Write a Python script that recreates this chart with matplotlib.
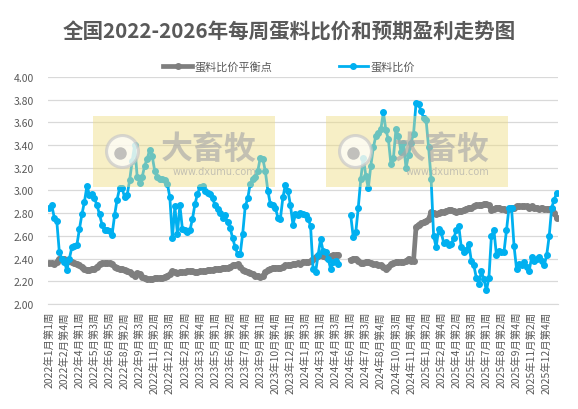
import numpy as np
import matplotlib
matplotlib.use("Agg")
import matplotlib.pyplot as plt
from matplotlib.patches import Rectangle

plt.rcParams['font.family'] = ['Noto Sans CJK SC', 'DejaVu Sans']


# ============================================
# DATA (weekly, 2022-01 W1 .. 2025-12)
# ============================================
title = "全国2022-2026年每周蛋料比价和预期盈利走势图"
series_names = ["蛋料比价平衡点", "蛋料比价"]

tick_labels = [
    "2022年1月第1周", "2022年2月第4周", "2022年4月第1周", "2022年5月第3周",
    "2022年6月第5周", "2022年8月第2周", "2022年9月第3周", "2022年11月第2周",
    "2022年12月第3周", "2023年2月第2周", "2023年3月第4周", "2023年5月第1周",
    "2023年6月第2周", "2023年7月第4周", "2023年9月第1周", "2023年10月第4周",
    "2023年12月第1周", "2024年1月第3周", "2024年3月第1周", "2024年4月第3周",
    "2024年6月第1周", "2024年7月第3周", "2024年8月第4周", "2024年10月第3周",
    "2024年11月第4周", "2025年1月第2周", "2025年2月第4周", "2025年4月第2周",
    "2025年5月第3周", "2025年7月第1周", "2025年8月第2周", "2025年9月第4周",
    "2025年11月第2周", "2025年12月第4周",
]
tick_step = 6

# 蛋料比价平衡点 (None = no data that week)
balance = [
    2.36, 2.36, 2.35, 2.37, 2.40, 2.40, 2.40, 2.38, 2.38, 2.37,
    2.36, 2.35, 2.34, 2.33, 2.31, 2.30, 2.30, 2.31, 2.31, 2.33,
    2.35, 2.36, 2.36, 2.36, 2.36, 2.35, 2.33, 2.32, 2.31, 2.31,
    2.30, 2.29, 2.28, 2.26, 2.25, 2.27, 2.26, 2.24, 2.23, 2.22,
    2.22, 2.22, 2.23, 2.23, 2.23, 2.23, 2.24, 2.25, 2.26, 2.29,
    2.28, 2.27, 2.28, 2.28, 2.28, 2.29, 2.29, 2.29, 2.28, 2.28,
    2.29, 2.29, 2.29, 2.30, 2.30, 2.30, 2.31, 2.31, 2.31, 2.32,
    2.32, 2.32, 2.33, 2.34, 2.34, 2.35, 2.33, 2.30, 2.29, 2.28,
    2.27, 2.26, 2.25, 2.25, 2.24, 2.25, 2.28, 2.30, 2.31, 2.32,
    2.32, 2.32, 2.32, 2.33, 2.34, 2.34, 2.34, 2.35, 2.35, 2.36,
    2.35, 2.37, 2.37, 2.37, 2.38, 2.40, 2.41, 2.42, 2.43, 2.42,
    2.41, 2.41, 2.42, 2.43, 2.43, 2.43, None, None, None, None,
    2.39, 2.40, 2.40, 2.38, 2.36, 2.36, 2.37, 2.37, 2.36, 2.35,
    2.35, 2.34, 2.34, 2.33, 2.31, 2.33, 2.35, 2.36, 2.37, 2.37,
    2.37, 2.37, 2.38, 2.40, 2.38, 2.38, 2.68, 2.70, 2.71, 2.72,
    2.73, 2.75, 2.81, 2.80, 2.79, 2.80, 2.81, 2.81, 2.82, 2.83,
    2.83, 2.82, 2.81, 2.82, 2.82, 2.83, 2.84, 2.85, 2.85, 2.86,
    2.87, 2.87, 2.87, 2.88, 2.88, 2.87, 2.83, 2.84, 2.85, 2.85,
    2.84, 2.84, 2.83, 2.84, 2.85, 2.85, 2.86, 2.86, 2.86, 2.86,
    2.86, 2.85, 2.86, 2.85, 2.85, 2.84, 2.85, 2.84, 2.84, 2.84,
    2.84, 2.80, 2.76,
]

# 蛋料比价
ratio = [
    2.85, 2.87, 2.76, 2.73, 2.46, 2.40, 2.37, 2.30, 2.40, 2.50,
    2.51, 2.52, 2.66, 2.79, 2.90, 3.04, 2.96, 2.97, 2.93, 2.87,
    2.79, 2.70, 2.65, 2.65, 2.64, 2.61, 2.78, 2.92, 3.02, 3.02,
    2.94, 2.96, 3.09, 3.26, 3.40, 3.12, 3.07, 3.12, 3.22, 3.28,
    3.36, 3.30, 3.17, 3.12, 3.10, 3.10, 3.09, 3.06, 2.94, 2.58,
    2.86, 2.62, 2.87, 2.66, 2.65, 2.63, 2.65, 2.75, 2.88, 2.97,
    3.03, 3.04, 3.00, 2.98, 2.97, 2.93, 2.87, 2.84, 2.80, 2.76,
    2.78, 2.72, 2.67, 2.58, 2.50, 2.44, 2.44, 2.62, 2.86, 2.93,
    3.06, 3.10, 3.12, 3.17, 3.29, 3.28, 3.17, 3.00, 2.88, 2.87,
    2.85, 2.76, 2.75, 2.94, 3.05, 3.00, 2.87, 2.70, 2.79, 2.78,
    2.80, 2.79, 2.78, 2.75, 2.69, 2.31, 2.28, 2.43, 2.57, 2.47,
    2.46, 2.40, 2.31, 2.37, 2.38, 2.35, None, None, None, None,
    2.78, 2.59, 2.63, 2.85, 3.10, 3.29, 3.13, 3.02, 3.22, 3.38,
    3.48, 3.51, 3.54, 3.69, 3.53, 3.45, 3.23, 3.29, 3.54, 3.48,
    3.34, 3.42, 3.20, 3.31, 3.42, 3.50, 3.77, 3.76, 3.70, 3.64,
    3.62, 3.38, 3.10, 2.60, 2.50, 2.66, 2.63, 2.54, 2.55, 2.52,
    2.53, 2.58, 2.65, 2.69, 2.50, 2.46, 2.48, 2.53, 2.38, 2.34,
    2.23, 2.18, 2.29, 2.22, 2.12, 2.23, 2.60, 2.65, 2.43, 2.47,
    2.46, 2.46, 2.65, 2.85, 2.85, 2.51, 2.31, 2.35, 2.34, 2.37,
    2.33, 2.29, 2.41, 2.38, 2.40, 2.41, 2.38, 2.34, 2.43, 2.60,
    2.85, 2.92, 2.98,
]

balance = np.array(balance, dtype=float)
ratio = np.array(ratio, dtype=float)
x = np.arange(len(ratio))

GRAY = "#7F7F7F"
BLUE = "#00B0F0"
TEXT = "#595959"


# ============================================
# FIGURE
# ============================================
W, H = 578, 410
fig = plt.figure(figsize=(W / 100, H / 100), dpi=100)


def fx(px):
    return px / W


def fy(py):
    return 1 - py / H


ax = fig.add_axes([fx(48), fy(305), fx(558) - fx(48), fy(78) - fy(305)])

ax.plot(x, balance, color=GRAY, linewidth=3.4, marker="o", markersize=4,
        label=series_names[0], zorder=3)
ax.plot(x, ratio, color=BLUE, linewidth=2.0, marker="o", markersize=4,
        label=series_names[1], zorder=4)

ax.set_xlim(-0.5, len(x) - 0.5)
ax.set_ylim(2.0, 4.0)
ax.set_yticks(np.arange(2.0, 4.01, 0.2))
ax.set_yticklabels([f"{v:.2f}" for v in np.arange(2.0, 4.01, 0.2)])
ax.set_xticks(np.arange(0, len(tick_labels) * tick_step, tick_step))
ax.set_xticklabels(tick_labels, rotation=90)

ax.tick_params(axis="both", length=0, labelsize=7.5, labelcolor=TEXT)
ax.tick_params(axis="x", pad=5)
ax.tick_params(axis="y", pad=10)
ax.grid(axis="y", color="#D9D9D9", linewidth=0.9)
ax.set_axisbelow(True)
for side in ["left", "right", "top"]:
    ax.spines[side].set_visible(False)
ax.spines["bottom"].set_color("#D9D9D9")

fig.text(0.5, fy(32), title, ha="center", va="center", fontsize=14.8,
         fontweight="bold", color=TEXT)

fig.legend(loc="center", bbox_to_anchor=(0.5, fy(67)), ncol=2, frameon=False,
           fontsize=8, labelcolor=TEXT, handlelength=2.6, handletextpad=0.2,
           columnspacing=6)


# ============================================
# WATERMARKS
# ============================================
for left in [93, 326]:
    fig.add_artist(Rectangle((fx(left), fy(188)), fx(182), fy(117) - fy(188),
                             transform=fig.transFigure, facecolor="#EEDC82",
                             alpha=0.45, edgecolor="none", zorder=10))
    cx, cy = left + 29, 152
    ring = plt.Line2D([fx(cx)], [fy(cy)], marker="o", markersize=23,
                      markerfacecolor="white", markeredgecolor="#C8C8C8",
                      markeredgewidth=2.2, alpha=0.7, transform=fig.transFigure,
                      zorder=11)
    fig.add_artist(ring)
    dot = plt.Line2D([fx(cx - 2)], [fy(cy + 2)], marker="o", markersize=9,
                     markerfacecolor="#A8A8A8", markeredgecolor="none",
                     alpha=0.7, transform=fig.transFigure, zorder=12)
    fig.add_artist(dot)
    fig.text(fx(left + 116), fy(150), "大畜牧", ha="center", va="center",
             fontsize=23, fontweight="bold", color="#A8A8A8", alpha=0.65,
             zorder=12)
    fig.text(fx(left + 121), fy(172), "www.dxumu.com", ha="center",
             va="center", fontsize=7, color="#A8A8A8", alpha=0.65, zorder=12,
             family="DejaVu Sans")

fig.savefig("out.png", dpi=100)
